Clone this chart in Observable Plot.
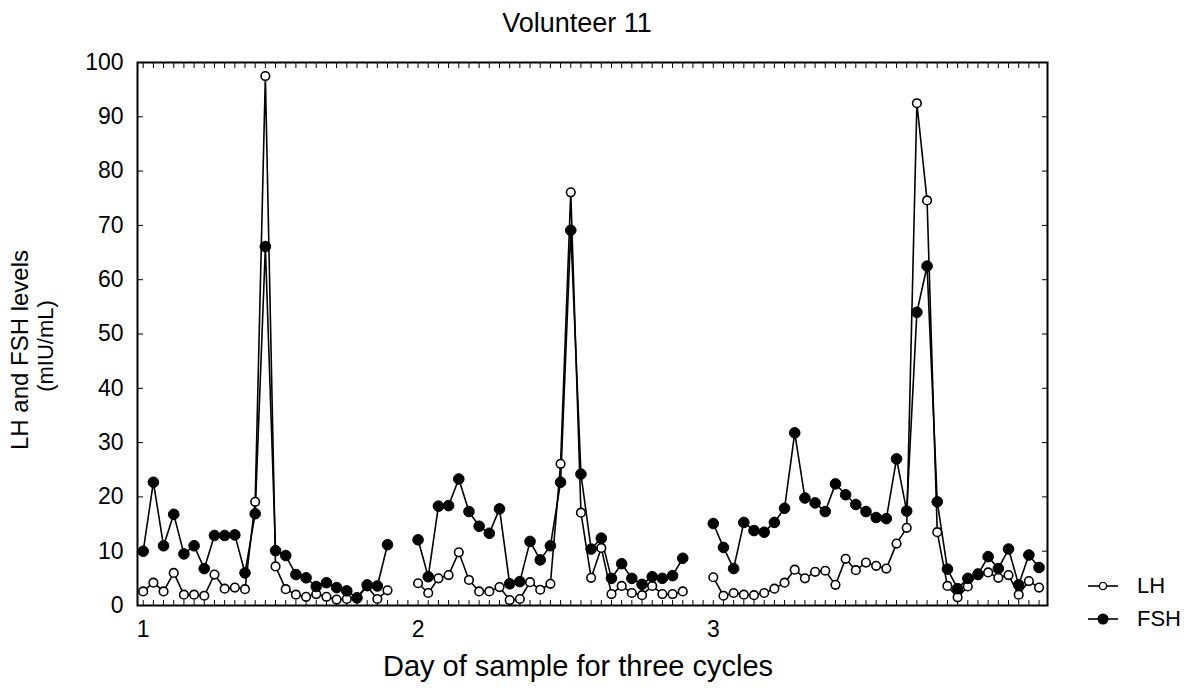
<!DOCTYPE html>
<html>
<head>
<meta charset="utf-8">
<script src="https://cdn.jsdelivr.net/npm/d3@7"></script>
<script src="https://cdn.jsdelivr.net/npm/@observablehq/plot@0.6"></script>
<style>
  html, body { margin: 0; padding: 0; background: #fff; }
  body { width: 1191px; height: 688px; position: relative; overflow: hidden;
         font-family: "Liberation Sans", Arial, sans-serif; color: #000; }
  #title { position: absolute; left: 0; top: 8px; width: 1154px; text-align: center; font-size: 27px; }
  #chart { position: absolute; left: 0; top: 50px; }
  #legend { position: absolute; left: 1086px; top: 569px; font-size: 22px; }
  .row { display: flex; align-items: center; height: 33px; }
  .row svg { margin-right: 17px; }
</style>
</head>
<body>
<div id="title">Volunteer 11</div>
<div id="chart"></div>
<div id="legend"></div>
<script>
// Cycle start positions (sample index) and their labels
const cycleStarts = [0, 27, 56];
const cycleLabels = ["1", "2", "3"];
const seriesNames = ["LH", "FSH"];

// Cycle 1
const lh1  = [2.6, 4.2, 2.6, 6.0, 2.0, 2.0, 1.8, 5.7, 3.1, 3.3, 3.0, 19.1, 97.5, 7.2, 3.0, 2.0, 1.6, 2.1, 1.6, 1.1, 1.2, 1.5, 3.5, 1.2, 2.8];
const fsh1 = [10.0, 22.7, 11.0, 16.8, 9.5, 11.0, 6.8, 12.9, 12.9, 13.0, 6.0, 16.9, 66.1, 10.1, 9.2, 5.7, 5.1, 3.5, 4.2, 3.3, 2.7, 1.4, 3.8, 3.6, 11.2];
// Cycle 2
const lh2  = [4.1, 2.3, 5.0, 5.6, 9.8, 4.7, 2.6, 2.6, 3.4, 1.0, 1.2, 4.3, 2.9, 4.0, 26.1, 76.1, 17.1, 5.1, 10.6, 2.1, 3.6, 2.3, 1.9, 3.6, 2.1, 2.1, 2.6];
const fsh2 = [12.1, 5.3, 18.3, 18.4, 23.3, 17.3, 14.6, 13.3, 17.8, 4.0, 4.4, 11.8, 8.4, 11.0, 22.7, 69.1, 24.2, 10.4, 12.4, 5.0, 7.7, 5.0, 3.9, 5.3, 5.0, 5.5, 8.7];
// Cycle 3
const lh3  = [5.2, 1.8, 2.3, 2.0, 1.9, 2.3, 3.1, 4.2, 6.6, 5.0, 6.2, 6.4, 3.8, 8.6, 6.5, 7.9, 7.3, 6.8, 11.4, 14.3, 92.5, 74.6, 13.5, 3.6, 1.5, 3.5, 5.9, 6.1, 5.1, 5.6, 2.0, 4.5, 3.3];
const fsh3 = [15.1, 10.7, 6.8, 15.3, 13.8, 13.5, 15.3, 17.9, 31.8, 19.8, 18.9, 17.3, 22.4, 20.4, 18.6, 17.3, 16.2, 16.0, 27.0, 17.4, 54.0, 62.5, 19.1, 6.7, 3.1, 5.0, 5.7, 9.0, 6.8, 10.4, 3.8, 9.3, 7.0];

const cycles = [[lh1, fsh1], [lh2, fsh2], [lh3, fsh3]];

// Build a tidy table from the arrays
const rows = [];
cycles.forEach(([lh, fsh], c) => {
  lh.forEach((v, i) => {
    rows.push({idx: cycleStarts[c] + i, cycle: c, series: "LH", value: v});
    rows.push({idx: cycleStarts[c] + i, cycle: c, series: "FSH", value: fsh[i]});
  });
});
const lhRows = rows.filter(d => d.series === "LH");
const fshRows = rows.filter(d => d.series === "FSH");
const lastIdx = cycleStarts[2] + lh3.length - 1;
const minorTicks = d3.range(0, lastIdx + 1);

const W = 1191, H = 638;
const chart = Plot.plot({
  width: W,
  height: H,
  marginLeft: 137,
  marginRight: 144,
  marginTop: 12,
  marginBottom: 83,
  style: {fontFamily: "'Liberation Sans', Arial, sans-serif", fontSize: "23px", background: "white", color: "black", overflow: "visible"},
  x: {domain: [-0.56, 88.83]},
  y: {domain: [0, 100]},
  marks: [
    Plot.frame({stroke: "black", strokeWidth: 2}),
    // minor inward ticks on bottom and top
    Plot.axisX({anchor: "bottom", ticks: minorTicks, tickSize: -5, fill: "none", label: null}),
    Plot.axisX({anchor: "top", ticks: minorTicks, tickSize: -5, fill: "none", label: null}),
    // cycle labels
    Plot.axisX({anchor: "bottom", ticks: cycleStarts, tickSize: 0, tickPadding: 15,
                tickFormat: d => cycleLabels[cycleStarts.indexOf(d)], label: null, fontSize: 23}),
    // y labels and inward ticks
    Plot.axisY({anchor: "left", ticks: d3.range(0, 101, 10), tickSize: 0, tickPadding: 14, label: null, fontSize: 23}),
    Plot.axisY({anchor: "left", ticks: d3.range(0, 101, 10), tickSize: -6, fill: "none", label: null}),
    Plot.axisY({anchor: "right", ticks: d3.range(0, 101, 10), tickSize: -6, fill: "none", label: null}),
    // lines
    Plot.line(lhRows, {x: "idx", y: "value", z: "cycle", stroke: "black", strokeWidth: 1.6}),
    Plot.line(fshRows, {x: "idx", y: "value", z: "cycle", stroke: "black", strokeWidth: 1.6}),
    // dots
    Plot.dot(lhRows, {x: "idx", y: "value", r: 4.3, fill: "white", stroke: "black", strokeWidth: 1.6}),
    Plot.dot(fshRows, {x: "idx", y: "value", r: 5.3, fill: "black", stroke: "black", strokeWidth: 1})
  ]
});
document.getElementById("chart").appendChild(chart);

// axis titles as SVG text
const svgNS = "http://www.w3.org/2000/svg";
function addText(str, x, y, size, rotate) {
  const t = document.createElementNS(svgNS, "text");
  t.textContent = str;
  t.setAttribute("text-anchor", "middle");
  t.setAttribute("dominant-baseline", "middle");
  t.setAttribute("font-size", size);
  t.setAttribute("fill", "black");
  t.setAttribute("transform", `translate(${x},${y})` + (rotate ? " rotate(-90)" : ""));
  chart.appendChild(t);
}
addText("LH and FSH levels", 22, 300, 24, true);
addText("(mIU/mL)", 47, 296, 22, true);
addText("Day of sample for three cycles", 578, 618, 29, false);

// Legend
const legend = document.getElementById("legend");
seriesNames.forEach(name => {
  const row = document.createElement("div");
  row.className = "row";
  const filled = name === "FSH";
  row.innerHTML = `<svg width="34" height="14"><line x1="2" y1="7" x2="32" y2="7" stroke="black" stroke-width="1.6"/>` +
    `<circle cx="17" cy="7" r="${filled ? 4.8 : 3.6}" fill="${filled ? "black" : "white"}" stroke="black" stroke-width="1.4"/></svg><span>${name}</span>`;
  legend.appendChild(row);
});
</script>
</body>
</html>
